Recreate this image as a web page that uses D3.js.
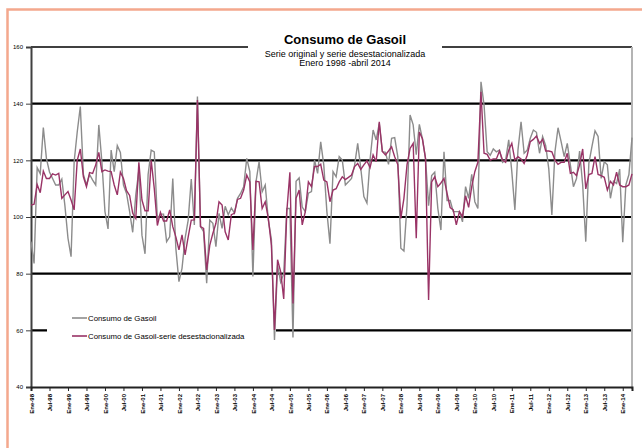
<!DOCTYPE html>
<html>
<head>
<meta charset="utf-8">
<script src="https://cdn.jsdelivr.net/npm/d3@7"></script>
<style>
  body { margin: 0; background: #fff; }
  svg { display: block; font-family: Arial, "Liberation Sans", sans-serif; }
</style>
</head>
<body>
<div id="chart"></div>
<script>
// monthly categories Ene-98 .. Abr-14
var meses = ["Ene","Feb","Mar","Abr","May","Jun","Jul","Ago","Sep","Oct","Nov","Dic"];
var categories = [];
for (var yr = 1998; yr <= 2014; yr++) {
  meses.forEach(function(m, k) {
    if (yr < 2014 || k < 4) categories.push(m + "-" + String(yr).slice(2));
  });
}

// x tick labels (every six months)
var tickLabels = ["Ene-98","Jul-98","Ene-99","Jul-99","Ene-00","Jul-00","Ene-01","Jul-01",
  "Ene-02","Jul-02","Ene-03","Jul-03","Ene-04","Jul-04","Ene-05","Jul-05","Ene-06","Jul-06",
  "Ene-07","Jul-07","Ene-08","Jul-08","Ene-09","Jul-09","Ene-10","Jul-10","Ene-11","Jul-11",
  "Ene-12","Jul-12","Ene-13","Jul-13","Ene-14"];

var yTicks = [40, 60, 80, 100, 120, 140, 160];

// Consumo de Gasoil (serie original)
var gasoil = [
  91.3, 83.6, 117.4, 115.3, 131.6, 120.7, 115.9, 113.6, 111.3, 111.3,
  113.4, 104, 92.5, 86, 119.5, 130, 139, 115, 111.3, 115,
  113, 111.3, 132.5, 119.5, 101.9, 95.8, 123.6, 116, 125.2, 122.8,
  111.3, 108.3, 101.9, 94.6, 107.8, 116.6, 93.6, 87, 115, 123.6,
  123, 99.3, 101, 101, 91.3, 93, 113.6, 88.9, 77.2, 81.9,
  92.5, 98.9, 113.4, 97.2, 142.5, 96.6, 94.8, 76.6, 98.9, 97.8,
  89.5, 101.3, 96, 103.8, 100.8, 103.2, 101.4, 106.6, 108.3, 110.7,
  120.7, 116, 79, 112.4, 119.5, 108.9, 111.3, 99, 92, 56.6,
  83, 77, 80, 103, 103, 57.5, 112.6, 113.8, 103.5, 101.9,
  108.4, 109, 120.1, 115.4, 126.5, 118.3, 101.9, 90.6, 116, 114.2,
  121.3, 120.1, 111.3, 112.4, 113.6, 118.3, 126, 117.2, 107.2, 104.9,
  120.1, 130.7, 127.2, 133, 123.1, 122.8, 118.6, 127.8, 128, 121.3,
  89, 88, 104, 136, 132.5, 122, 132.7, 127.6, 120.7, 104,
  114.6, 115.8, 103, 95.4, 123, 105.8, 105.8, 101.9, 101.9, 101.9,
  98.3, 110.7, 106.6, 115.1, 105.4, 103, 147.7, 139.5, 123, 121.8,
  124, 123, 123.6, 119.3, 120.1, 127.2, 116, 102.5, 123.6, 133.6,
  122.5, 123.6, 127.8, 130.7, 129.9, 122.5, 128.4, 125.2, 117, 100.7,
  123, 131.5, 126.6, 121.3, 126, 118.4, 110.7, 113.6, 123.3, 111.3,
  91.3, 118.9, 124.8, 130.4, 128.4, 113.6, 119.5, 118.4, 106.6, 112.6,
  111.8, 116.9, 91.1, 111.3, 115, 128
];

// Consumo de Gasoil - serie desestacionalizada
var desest = [
  104.2, 104.5, 111.5, 108.6, 116.2, 113.6, 113.6, 115.2, 114.8, 115.4,
  106.6, 107.8, 109, 106, 102.5, 120, 124, 114.2, 110.7, 115.7,
  115.4, 118.4, 122.8, 116, 116.6, 116.2, 116, 111.3, 107.8, 115.8,
  113.6, 109.3, 107.6, 101.3, 99.5, 119.3, 106, 102.2, 102.2, 120,
  110, 97, 101.6, 98.6, 98.6, 102.5, 96.6, 93, 88.4, 93.7,
  86.6, 93, 98.9, 99, 141.3, 96.6, 96, 81.3, 90, 94.2,
  97.8, 105.4, 104.2, 94.8, 91.9, 100.8, 101.3, 106.2, 106.6, 109.5,
  114.8, 112.4, 88.4, 112.6, 112.4, 103, 105.4, 99.5, 90.1, 60.1,
  84.9, 80.7, 71.1, 101.9, 115.8, 69.5, 106.6, 109.5, 97.2, 101.9,
  112.4, 110.7, 117.8, 117.8, 118.6, 113, 112.4, 105.4, 109.5, 110,
  112.4, 114.2, 113.2, 114, 114.8, 117.8, 118.9, 116.8, 118.4, 119.8,
  117.4, 121.9, 119.5, 133.6, 123.1, 121.9, 123.3, 124.8, 121.3, 118.5,
  99.5, 106.6, 118.4, 124.2, 126, 92.5, 130, 127.6, 120.7, 70.7,
  112.4, 114.2, 110.7, 112, 113.6, 108.3, 103.3, 102.5, 97.2, 101.9,
  100.1, 107.5, 103.4, 110.7, 116, 119.3, 144.2, 122.5, 122.1, 120.1,
  120.5, 120.5, 123.3, 120.1, 119.3, 123.6, 126, 120.1, 121.3, 120.5,
  118.9, 121.8, 126.6, 127.4, 128.6, 126, 127.4, 123.3, 123.3, 123,
  120.1, 118.6, 119.3, 119.3, 122.5, 115.4, 115.8, 114.6, 118.4, 124,
  109.9, 115, 115.4, 121.3, 115, 114.6, 114, 109.5, 112.6, 111.3,
  115.8, 111.3, 110.7, 110.7, 111.3, 115.2
];

var W = 642, H = 448;
var margin = {top: 47, right: 10, bottom: 61, left: 31},
    width = W - margin.left - margin.right,
    height = H - margin.top - margin.bottom;

var svg = d3.select("#chart").append("svg")
    .attr("width", W)
    .attr("height", H);

// salmon frame round the chart
svg.append("rect")
    .attr("x", 7.5).attr("y", 9.5)
    .attr("width", 700).attr("height", 500)
    .attr("fill", "none")
    .attr("stroke", "#f4a88d")
    .attr("stroke-width", 2.5);

var g = svg.append("g")
    .attr("transform", "translate(" + margin.left + "," + margin.top + ")");

var x = d3.scalePoint().domain(categories).range([0, width]);
var y = d3.scaleLinear().domain([40, 160]).range([height, 0]);

// gridlines
g.selectAll(".grid")
    .data([60, 80, 100, 120, 140])
    .enter().append("line")
      .attr("x1", 0).attr("x2", width)
      .attr("y1", function(d) { return y(d); })
      .attr("y2", function(d) { return y(d); })
      .attr("stroke", "#000")
      .attr("stroke-width", 2.2);

// plot frame
g.append("line").attr("x1", 0).attr("x2", width).attr("y1", y(160)).attr("y2", y(160))
    .attr("stroke", "#404040").attr("stroke-width", 2);
g.append("line").attr("x1", width).attr("x2", width).attr("y1", y(160)).attr("y2", height + 2)
    .attr("stroke", "#b4b4b4").attr("stroke-width", 2);

// y axis
var yAxis = g.append("g")
    .call(d3.axisLeft(y).tickValues(yTicks).tickSize(5).tickPadding(3));
yAxis.select(".domain").attr("stroke", "#404040").attr("stroke-width", 2);
yAxis.selectAll(".tick line").attr("stroke", "#404040");
yAxis.selectAll("text").style("font-size", "6px").attr("fill", "#000");

// x axis
var xAxis = g.append("g")
    .attr("transform", "translate(0," + height + ")")
    .call(d3.axisBottom(x).tickValues(tickLabels).tickSize(4));
xAxis.select(".domain").attr("stroke", "#222").attr("stroke-width", 2);
xAxis.selectAll(".tick line").attr("stroke", "#222");
xAxis.selectAll("text")
    .attr("transform", "rotate(-90)")
    .attr("text-anchor", "end")
    .attr("x", -7).attr("y", 0).attr("dy", "0.35em")
    .style("font-size", "6px")
    .style("font-weight", "bold")
    .attr("fill", "#000");

// title box over the top line
svg.append("rect")
    .attr("x", 248).attr("y", 28).attr("width", 194).attr("height", 42)
    .attr("fill", "#fff");
svg.append("text")
    .attr("x", 345).attr("y", 44)
    .attr("text-anchor", "middle")
    .style("font-size", "13px").style("font-weight", "bold")
    .text("Consumo de Gasoil");
svg.append("text")
    .attr("x", 345).attr("y", 56.5)
    .attr("text-anchor", "middle")
    .style("font-size", "9px")
    .text("Serie original y serie desestacionalizada");
svg.append("text")
    .attr("x", 345).attr("y", 65.5)
    .attr("text-anchor", "middle")
    .style("font-size", "9px")
    .text("Enero 1998 -abril 2014");

// legend (box hides the 60 gridline, series are drawn over it)
var legendItems = [
  {name: "Consumo de Gasoil", color: "#8c8c8c"},
  {name: "Consumo de Gasoil-serie desestacionalizada", color: "#993366"}
];
svg.append("rect")
    .attr("x", 47).attr("y", 306).attr("width", 229).attr("height", 42)
    .attr("fill", "#fff");
var lg = svg.selectAll(".legend")
    .data(legendItems)
    .enter().append("g")
      .attr("transform", function(d, i) { return "translate(72," + (318 + i * 18) + ")"; });
lg.append("line")
    .attr("x1", 0).attr("x2", 15)
    .attr("stroke", function(d) { return d.color; })
    .attr("stroke-width", 1.6);
lg.append("text")
    .attr("x", 16).attr("dy", "0.35em")
    .style("font-size", "7.8px")
    .text(function(d) { return d.name; });

// series
var gs = svg.append("g")
    .attr("transform", "translate(" + margin.left + "," + margin.top + ")");

var line = d3.line()
    .x(function(d, i) { return x(categories[i]); })
    .y(function(d) { return y(d); });

gs.append("path")
    .datum(gasoil)
    .attr("fill", "none")
    .attr("stroke", "#8c8c8c")
    .attr("stroke-width", 1.4)
    .attr("d", line);

gs.append("path")
    .datum(desest)
    .attr("fill", "none")
    .attr("stroke", "#993366")
    .attr("stroke-width", 1.4)
    .attr("d", line);
</script>
</body>
</html>
